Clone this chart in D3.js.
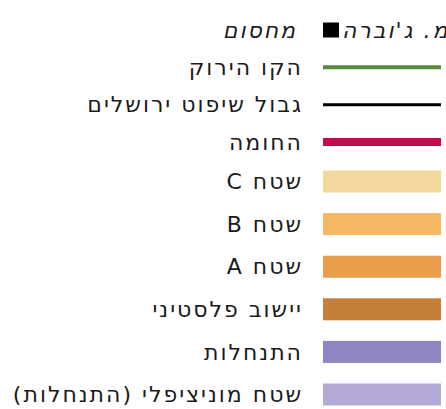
<!DOCTYPE html>
<html>
<head>
<meta charset="utf-8">
<script src="https://cdn.jsdelivr.net/npm/d3@7"></script>
<style>
html,body{margin:0;padding:0;background:#fff;}
svg{display:block;}
text{font-family:"DejaVu Sans",sans-serif;}
</style>
</head>
<body>
<svg id="chart" width="446" height="409"></svg>
<script>
// Header row (point symbol example)
const headerLabel = "מחסום";
const headerExample = "מ. ג'וברה";
const headerColor = "#000000";

// Line symbols
const lineLabels = ["הקו הירוק", "גבול שיפוט ירושלים", "החומה"];
const lineColors = ["#5b8a3e", "#000000", "#c4094c"];
const lineWidths = [4, 3, 8];

// Area symbols
const areaLabels = ["שטח C", "שטח B", "שטח A", "יישוב פלסטיני", "התנחלות", "שטח מוניציפלי (התנחלות)"];
const areaColors = ["#f2d89c", "#f5b862", "#e99c4a", "#c67f38", "#8e86c0", "#b4a9d6"];

const svg = d3.select("#chart");
const fontSize = 22;
const spacing = 2;
const textX = 303;
const symX0 = 323, symX1 = 441;

const topRows = ["header", ...lineLabels];
const yTop = d3.scalePoint().domain(topRows).range([30, 142]);
const yArea = d3.scalePoint().domain(areaLabels).range([181.5, 394.5]);

function label(y, txt, italic, x, anchor) {
  return svg.append("text")
    .attr("x", x ?? textX).attr("y", y)
    .attr("direction", "rtl")
    .attr("text-anchor", anchor ?? "start")
    .attr("dy", "0.35em")
    .attr("font-size", fontSize)
    .attr("letter-spacing", spacing)
    .attr("font-style", italic ? "italic" : "normal")
    .attr("fill", "#1a1a1a")
    .text(txt);
}

const hy = yTop("header");
label(hy, headerLabel, true, textX - 6);
svg.append("rect").attr("x", symX0).attr("y", hy - 7.5).attr("width", 16).attr("height", 15).attr("fill", headerColor);
label(hy, headerExample, true, 342, "end");

lineLabels.forEach((l, i) => {
  const y = yTop(l);
  label(y, l, false);
  svg.append("line").attr("x1", symX0).attr("x2", symX1).attr("y1", y).attr("y2", y)
    .attr("stroke", lineColors[i]).attr("stroke-width", lineWidths[i]);
});

const swH = 22;
svg.selectAll("rect.area").data(areaLabels).join("rect")
  .attr("class", "area")
  .attr("x", symX0).attr("width", symX1 - symX0)
  .attr("y", d => yArea(d) - swH / 2).attr("height", swH)
  .attr("fill", (d, i) => areaColors[i]);
areaLabels.forEach(l => label(yArea(l), l, false));
</script>
</body>
</html>
